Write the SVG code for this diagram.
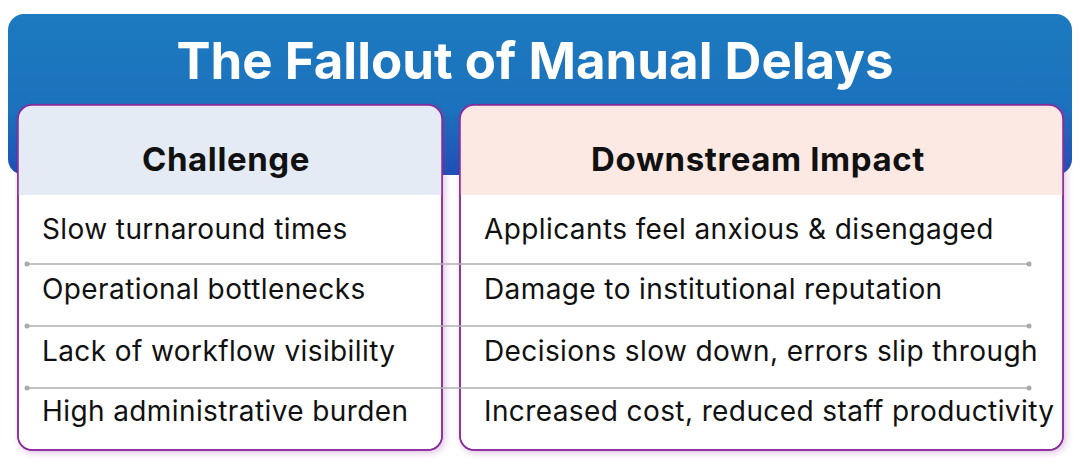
<svg xmlns="http://www.w3.org/2000/svg" width="1080" height="465" viewBox="0 0 1080 465">
<defs>
<linearGradient id="bg" x1="0" y1="0" x2="0" y2="1"><stop offset="0" stop-color="#1c7abf"/><stop offset="0.6" stop-color="#1c72bd"/><stop offset="1" stop-color="#1e4fb6"/></linearGradient>
<filter id="sh" x="-5%" y="-5%" width="110%" height="110%"><feDropShadow dx="2" dy="2" stdDeviation="3" flood-color="#8b2a9b" flood-opacity="0.3"/></filter>
<clipPath id="cl"><rect x="18" y="105" width="424" height="345" rx="14"/></clipPath>
<clipPath id="cr"><rect x="460" y="105" width="603" height="345" rx="14"/></clipPath>
</defs>
<style>
.t{font-family:Inter,"Liberation Sans",sans-serif;fill:#111}
.row{font-size:28px;letter-spacing:0.4px}
.hd{font-size:33px;font-weight:700;text-anchor:middle;letter-spacing:0.6px}
.card{fill:#fff;stroke:#8b2a9b;stroke-width:1.5}
.sep{stroke:#b0b0b0;stroke-width:1.5}
.dot{fill:#aaa}
</style>
<rect x="8" y="14" width="1064" height="161" rx="16" fill="url(#bg)"/>
<text x="535" y="79" text-anchor="middle" font-family="Inter,'Liberation Sans',sans-serif" font-size="51" font-weight="700" fill="#fff">The Fallout of Manual Delays</text>
<g id="challenge">
<rect class="card" x="18" y="105" width="424" height="345" rx="14" filter="url(#sh)"/>
<rect x="18" y="105" width="424" height="90" fill="#e4ebf5" clip-path="url(#cl)"/>
<rect x="18" y="105" width="424" height="345" rx="14" fill="none" stroke="#8b2a9b" stroke-width="1.5"/>
<text class="t hd" x="226" y="171">Challenge</text>
<text class="t row" x="42" y="239">Slow turnaround times</text>
<text class="t row" x="42" y="299">Operational bottlenecks</text>
<text class="t row" x="42" y="361">Lack of workflow visibility</text>
<text class="t row" x="42" y="421">High administrative burden</text>
</g>
<g id="impact">
<rect class="card" x="460" y="105" width="603" height="345" rx="14" filter="url(#sh)"/>
<rect x="460" y="105" width="603" height="90" fill="#fde9e3" clip-path="url(#cr)"/>
<rect x="460" y="105" width="603" height="345" rx="14" fill="none" stroke="#8b2a9b" stroke-width="1.5"/>
<text class="t hd" x="758" y="171">Downstream Impact</text>
<text class="t row" x="484" y="239">Applicants feel anxious &amp; disengaged</text>
<text class="t row" x="484" y="299">Damage to institutional reputation</text>
<text class="t row" x="484" y="361">Decisions slow down, errors slip through</text>
<text class="t row" x="484" y="421">Increased cost, reduced staff productivity</text>
</g>
<g id="connectors">
<line class="sep" x1="27" y1="264" x2="1029" y2="264"/><circle class="dot" cx="27" cy="264" r="2.5"/><circle class="dot" cx="1029" cy="264" r="2.5"/>
<line class="sep" x1="27" y1="326" x2="1029" y2="326"/><circle class="dot" cx="27" cy="326" r="2.5"/><circle class="dot" cx="1029" cy="326" r="2.5"/>
<line class="sep" x1="27" y1="388" x2="1029" y2="388"/><circle class="dot" cx="27" cy="388" r="2.5"/><circle class="dot" cx="1029" cy="388" r="2.5"/>
</g>
</svg>
